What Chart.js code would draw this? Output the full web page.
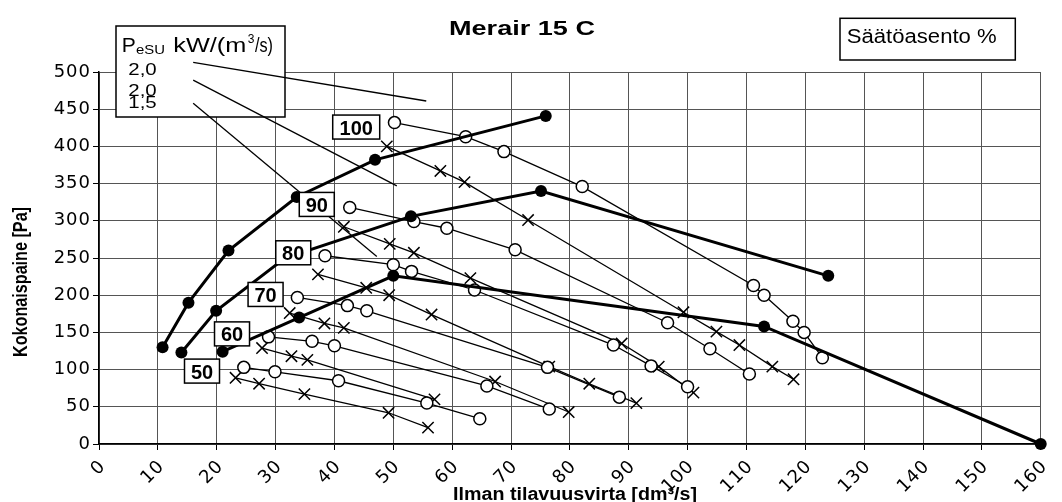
<!DOCTYPE html>
<html>
<head>
<meta charset="utf-8">
<script src="https://cdn.jsdelivr.net/npm/chart.js@4.4.1/dist/chart.umd.min.js"></script>
<style>
  html, body { margin: 0; padding: 0; background: #fff; }
</style>
</head>
<body>
<canvas id="merair" width="1062" height="502"></canvas>
<script>
// Järjestelmäkäyrät (täytetyt pisteet)
const sysAFlow = [10.8, 15.2, 22.0, 33.6, 46.9, 75.9];
const sysAPres = [130, 190, 260, 332, 382, 441];
const sysBFlow = [14.0, 19.9, 31.6, 53.0, 75.1, 123.9];
const sysBPres = [123, 179, 250, 306, 340, 226];
const sysCFlow = [21.0, 34.0, 50.0, 113.0, 160.0];
const sysCPres = [124, 170, 226, 158, 0];

// Säätöasento-käyrät (avoimet ympyrät)
const flow100 = [50.2, 62.3, 68.8, 82.1, 111.2, 113.0, 117.9, 119.8, 122.9];
const pres100 = [432, 413, 393, 346, 213, 200, 165, 150, 116];
const flow90 = [42.6, 53.5, 59.1, 70.7, 96.6, 103.8, 110.5];
const pres90 = [318, 299, 290, 261, 163, 128, 94];
const flow80 = [38.4, 50.0, 53.1, 63.8, 87.4, 93.8, 100.0];
const pres80 = [253, 241, 232, 207, 133, 105, 77];
const flow70 = [33.7, 42.2, 45.5, 76.2, 88.4];
const pres70 = [197, 186, 179, 103, 63];
const flow60 = [28.8, 36.2, 40.0, 65.9, 76.5];
const pres60 = [144, 138, 132, 78, 47];
const flow50 = [24.6, 29.9, 40.7, 55.7, 64.7];
const pres50 = [103, 97, 85, 55, 34];

// Ristimerkityt käyrät
const crossFlow1 = [48.9, 58.0, 62.1, 72.9, 99.3, 104.9, 108.8, 114.4, 118.0];
const crossPres1 = [400, 367, 352, 301, 177, 151, 133, 104, 87];
const crossFlow2 = [41.6, 49.4, 53.5, 63.1, 88.8, 95.1, 101.0];
const crossPres2 = [292, 269, 257, 223, 135, 104, 69];
const crossFlow3 = [37.2, 45.4, 49.3, 56.5, 76.5, 83.3, 91.3];
const crossPres3 = [228, 210, 200, 174, 104, 81, 55];
const crossFlow4 = [32.4, 38.3, 41.6, 67.3, 79.8];
const crossPres4 = [176, 162, 156, 84, 43];
const crossFlow5 = [27.7, 32.7, 35.4, 57.0];
const crossPres5 = [129, 118, 113, 60];
const crossFlow6 = [23.2, 27.2, 34.9, 49.2, 55.9];
const crossPres6 = [89, 81, 67, 42, 22];

// PeSU-osoitinviivat
const pesuLabels = ['2,0', '2,0', '1,5'];
const pesuFlow1 = [16.0, 55.6];
const pesuPres1 = [513, 461];
const pesuFlow2 = [16.0, 50.6];
const pesuPres2 = [489, 347];
const pesuFlow3 = [16.0, 47.2];
const pesuPres3 = [458, 252];

// Säätöasento-tunnukset
const tagTexts = ['100', '90', '80', '70', '60', '50'];
const tagFlow = [43.7, 37.0, 33.0, 28.3, 22.6, 17.5];
const tagPres = [426, 322, 257, 201, 148, 98];

const xTicks = [0, 160, 10];
const yTicks = [0, 500, 50];

const FONT = "'Liberation Sans', Arial, sans-serif";

const pts = (xs, ys) => xs.map((x, i) => ({ x: x, y: ys[i] }));

function bold(xs, ys) {
  return { data: pts(xs, ys), showLine: true, borderColor: '#000', borderWidth: 3,
    pointRadius: 6, pointBackgroundColor: '#000', pointBorderColor: '#000', pointBorderWidth: 0, clip: false };
}
function open(xs, ys) {
  return { data: pts(xs, ys), showLine: true, borderColor: '#000', borderWidth: 1.3,
    pointRadius: 6, pointBackgroundColor: '#fff', pointBorderColor: '#000', pointBorderWidth: 1.5, clip: false };
}
function cross(xs, ys) {
  return { data: pts(xs, ys), showLine: true, borderColor: '#000', borderWidth: 1.3,
    pointStyle: 'crossRot', pointRadius: 8, pointBorderColor: '#000', pointBorderWidth: 1.5, clip: false };
}
function plain(xs, ys) {
  return { data: pts(xs, ys), showLine: true, borderColor: '#000', borderWidth: 1.3, pointRadius: 0, clip: false };
}

function stretchText(ctx, text, x, y, font, width, sy) {
  ctx.save();
  ctx.font = font;
  const w = ctx.measureText(text).width;
  ctx.translate(x, y);
  ctx.scale(width ? width / w : 1, sy || 1);
  ctx.textAlign = 'left';
  ctx.textBaseline = 'alphabetic';
  ctx.fillStyle = '#000';
  ctx.fillText(text, 0, 0);
  ctx.restore();
}

function box(ctx, x, y, w, h) {
  ctx.save();
  ctx.fillStyle = '#fff';
  ctx.fillRect(x, y, w, h);
  ctx.strokeStyle = '#000';
  ctx.lineWidth = 1.5;
  ctx.strokeRect(x, y, w, h);
  ctx.restore();
}

const decorations = {
  id: 'decorations',
  beforeDraw(chart) {
    chart.ctx.letterSpacing = '1px';
  },
  beforeDatasetsDraw(chart) {
    const ctx = chart.ctx;
    ctx.letterSpacing = '0px';
    stretchText(ctx, 'Merair 15 C', 449, 35, 'bold 20px ' + FONT, 146);

    // PeSU-selite
    box(ctx, 116, 26, 169, 91);
    stretchText(ctx, 'P', 121.7, 51.7, '21px ' + FONT);
    stretchText(ctx, 'eSU', 136, 54, '12px ' + FONT, 29);
    stretchText(ctx, 'kW/(m', 173.3, 51.7, '21px ' + FONT, 73);
    stretchText(ctx, '3', 247.7, 43, '12px ' + FONT);
    stretchText(ctx, '/s)', 255, 51.7, '21px ' + FONT, 18);
    const rows = [75, 96, 108.3];
    pesuLabels.forEach((t, i) => stretchText(ctx, t, 128.3, rows[i], '17px ' + FONT, 28.4));

    box(ctx, 840, 18.3, 175.3, 41.7);
    stretchText(ctx, 'Säätöasento %', 846.7, 43.3, '20px ' + FONT, 150);

    stretchText(ctx, 'Ilman tilavuusvirta [dm³/s]', 453, 500, 'bold 18px ' + FONT, 244);

    ctx.save();
    ctx.translate(26.7, 357);
    ctx.rotate(-Math.PI / 2);
    stretchText(ctx, 'Kokonaispaine [Pa]', 0, 0, 'bold 16px ' + FONT, 150, 1.3);
    ctx.restore();
  },
  afterDatasetsDraw(chart) {
    const ctx = chart.ctx;
    const xs = chart.scales.x, ys = chart.scales.y;
    tagTexts.forEach((t, i) => {
      const cx = xs.getPixelForValue(tagFlow[i]);
      const cy = ys.getPixelForValue(tagPres[i]);
      const w = t.length > 2 ? 47 : 35;
      box(ctx, cx - w / 2, cy - 12, w, 24);
      ctx.save();
      ctx.font = 'bold 20px ' + FONT;
      ctx.textAlign = 'center';
      ctx.textBaseline = 'alphabetic';
      ctx.fillStyle = '#000';
      ctx.fillText(t, cx, cy + 7.5);
      ctx.restore();
    });
  }
};

const tickFont = { family: "'DejaVu Sans', sans-serif", size: 18 };

new Chart(document.getElementById('merair').getContext('2d'), {
  type: 'scatter',
  data: {
    datasets: [
      bold(sysAFlow, sysAPres), bold(sysBFlow, sysBPres), bold(sysCFlow, sysCPres),
      open(flow100, pres100), open(flow90, pres90), open(flow80, pres80),
      open(flow70, pres70), open(flow60, pres60), open(flow50, pres50),
      cross(crossFlow1, crossPres1), cross(crossFlow2, crossPres2), cross(crossFlow3, crossPres3),
      cross(crossFlow4, crossPres4), cross(crossFlow5, crossPres5), cross(crossFlow6, crossPres6),
      plain(pesuFlow1, pesuPres1), plain(pesuFlow2, pesuPres2), plain(pesuFlow3, pesuPres3)
    ]
  },
  options: {
    responsive: false,
    animation: false,
    events: [],
    layout: { padding: { top: 72, right: 6, left: 0, bottom: 0 } },
    plugins: { legend: { display: false }, tooltip: { enabled: false } },
    scales: {
      x: {
        type: 'linear',
        min: xTicks[0], max: xTicks[1],
        afterFit: s => { s.height = 58; },
        ticks: { stepSize: xTicks[2], minRotation: 45, maxRotation: 45, padding: 6, labelOffset: 4, color: '#000', font: tickFont },
        grid: { color: '#555', tickLength: 6, tickColor: '#000' },
        border: { color: '#000', width: 1.5 }
      },
      y: {
        min: yTicks[0], max: yTicks[1],
        afterFit: s => { s.width = 99; },
        ticks: { stepSize: yTicks[2], padding: 2, color: '#000', font: tickFont },
        grid: { color: '#555', tickLength: 6, tickColor: '#000' },
        border: { color: '#000', width: 1.5 }
      }
    }
  },
  plugins: [decorations]
});
</script>
</body>
</html>
